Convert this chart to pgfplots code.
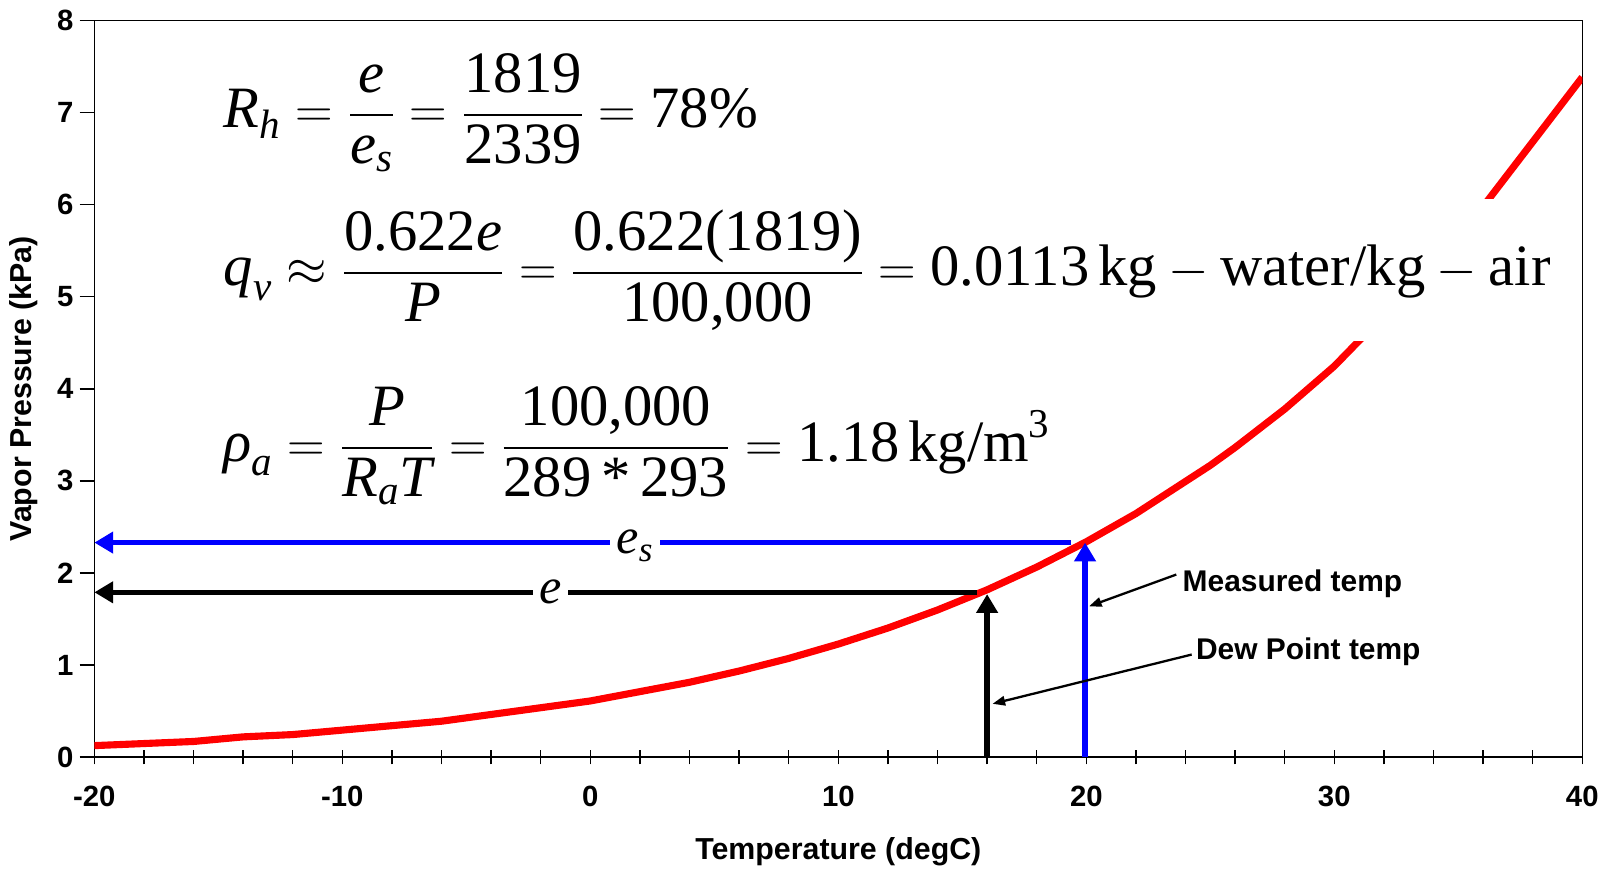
\documentclass[border=0pt]{standalone}
\usepackage{fontspec}
\setmainfont{Liberation Serif}
\setsansfont{Liberation Sans}
\usepackage{amsmath}
\usepackage{pgfplots}
\pgfplotsset{compat=1.18}
\usetikzlibrary{arrows.meta}

\newcommand{\iv}[1]{\text{\itshape #1}}
\newcommand{\rv}[1]{\text{#1}}
\newcommand{\eqfont}{\fontsize{28}{33}\selectfont}

\begin{document}
\begin{tikzpicture}
\begin{axis}[
  scale only axis,
  width=711pt, height=352pt,
  xmin=-20, xmax=40, ymin=0, ymax=8,
  xtick={-20,-10,...,40},
  xticklabels={-20,-10,0,10,20,30,40},
  ytick={0,1,...,8},
  yticklabels={0,1,2,3,4,5,6,7,8},
  minor x tick num=4,
  xtick pos=bottom, ytick pos=left,
  xtick align=center, ytick align=outside,
  major tick length=7pt, minor tick length=7pt,
  axis line style={line width=0.7pt},
  every tick/.style={black, line width=0.7pt},
  ticklabel style={font=\sffamily\bfseries\fontsize{14}{16}\selectfont},
  xticklabel style={yshift=-7pt},
  yticklabel style={xshift=0.5pt},
  xlabel={Temperature (degC)},
  ylabel={Vapor Pressure (kPa)},
  label style={font=\sffamily\bfseries\fontsize{14.5}{17}\selectfont},
  xlabel style={yshift=-7.5pt},
  ylabel style={yshift=2.5pt},
]
% saturation vapour pressure (kPa)
\addplot[red, line width=3.4pt, line join=round] coordinates {
  (-20,0.125) (-16,0.17) (-14,0.22) (-12,0.245) (-6,0.39) (0,0.61)
  (4,0.813) (6,0.935) (8,1.072) (10,1.228) (12,1.402) (14,1.598)
  (16,1.817) (18,2.064) (20,2.339) (22,2.645) (25,3.169) (26,3.363)
  (28,3.78) (30,4.246) (35,5.628) (40,7.384)
};

% e_s and e read-offs
\addplot[blue, line width=2.6pt, -{Triangle[length=9pt,width=10pt]}] coordinates {(19.4,2.33) (-20,2.33)};
\addplot[blue, line width=2.6pt, -{Triangle[length=9pt,width=10pt]}] coordinates {(19.95,0) (19.95,2.33)};
\addplot[black, line width=2.6pt, -{Triangle[length=9pt,width=10pt]}] coordinates {(15.6,1.79) (-20,1.79)};
\addplot[black, line width=2.6pt, -{Triangle[length=9pt,width=10pt]}] coordinates {(16,0) (16,1.77)};

% pointer arrows
\addplot[black, line width=1.1pt, -{Triangle[length=6pt,width=4.5pt]}] coordinates {(23.63,1.983) (20.11,1.638)};
\addplot[black, line width=1.1pt, -{Triangle[length=6pt,width=4.5pt]}] coordinates {(24.25,1.114) (16.22,0.579)};

\node[anchor=base, yshift=-5.4pt, fill=white, inner xsep=3pt, inner ysep=1pt, font=\fontsize{24}{26}\selectfont]
  at (axis cs:1.8,2.33) {$\iv{e}_{\iv{s}}$};
\node[anchor=base, yshift=-5.4pt, fill=white, inner xsep=3pt, inner ysep=1pt, font=\fontsize{24}{26}\selectfont]
  at (axis cs:-1.6,1.79) {\textit{e}};

\node[anchor=west, inner sep=0pt, font=\sffamily\bfseries\fontsize{14.3}{16}\selectfont]
  at (axis cs:23.87,1.88) {Measured temp};
\node[anchor=west, inner sep=0pt, font=\sffamily\bfseries\fontsize{14.3}{16}\selectfont]
  at (axis cs:24.41,1.14) {Dew Point temp};

% equations
\node[anchor=west, inner sep=0pt, font=\eqfont] at (axis cs:-14.8,7.0)
  {$\displaystyle \iv{R}_{\iv{h}} = \frac{\iv{e}}{\iv{e}_{\iv{s}}} = \frac{\rv{1819}}{\rv{2339}} = \rv{78\%}$};
\node[anchor=west, fill=white, inner xsep=0pt, inner ysep=5pt, font=\eqfont] at (axis cs:-14.8,5.29)
  {$\displaystyle \iv{q}_{\iv{v}} \approx \frac{\rv{0.622}\iv{e}}{\iv{P}} = \frac{\rv{0.622(1819)}}{\rv{100,000}} = \rv{0.0113}\,\rv{kg}-\rv{water/kg}-\rv{air}$};
\node[anchor=west, inner sep=0pt, font=\eqfont] at (axis cs:-14.8,3.38)
  {$\displaystyle \iv{ρ}_{\iv{a}} = \frac{\iv{P}}{\iv{R}_{\iv{a}}\iv{T}} = \frac{\rv{100,000}}{\rv{289\,*\,293}} = \rv{1.18}\,\rv{kg/m}^{\rv{3}}$};
\end{axis}
\pgfresetboundingbox
\path[use as bounding box] (-45.1pt,-53pt) rectangle (723.3pt,361.8pt);
\end{tikzpicture}
\end{document}
